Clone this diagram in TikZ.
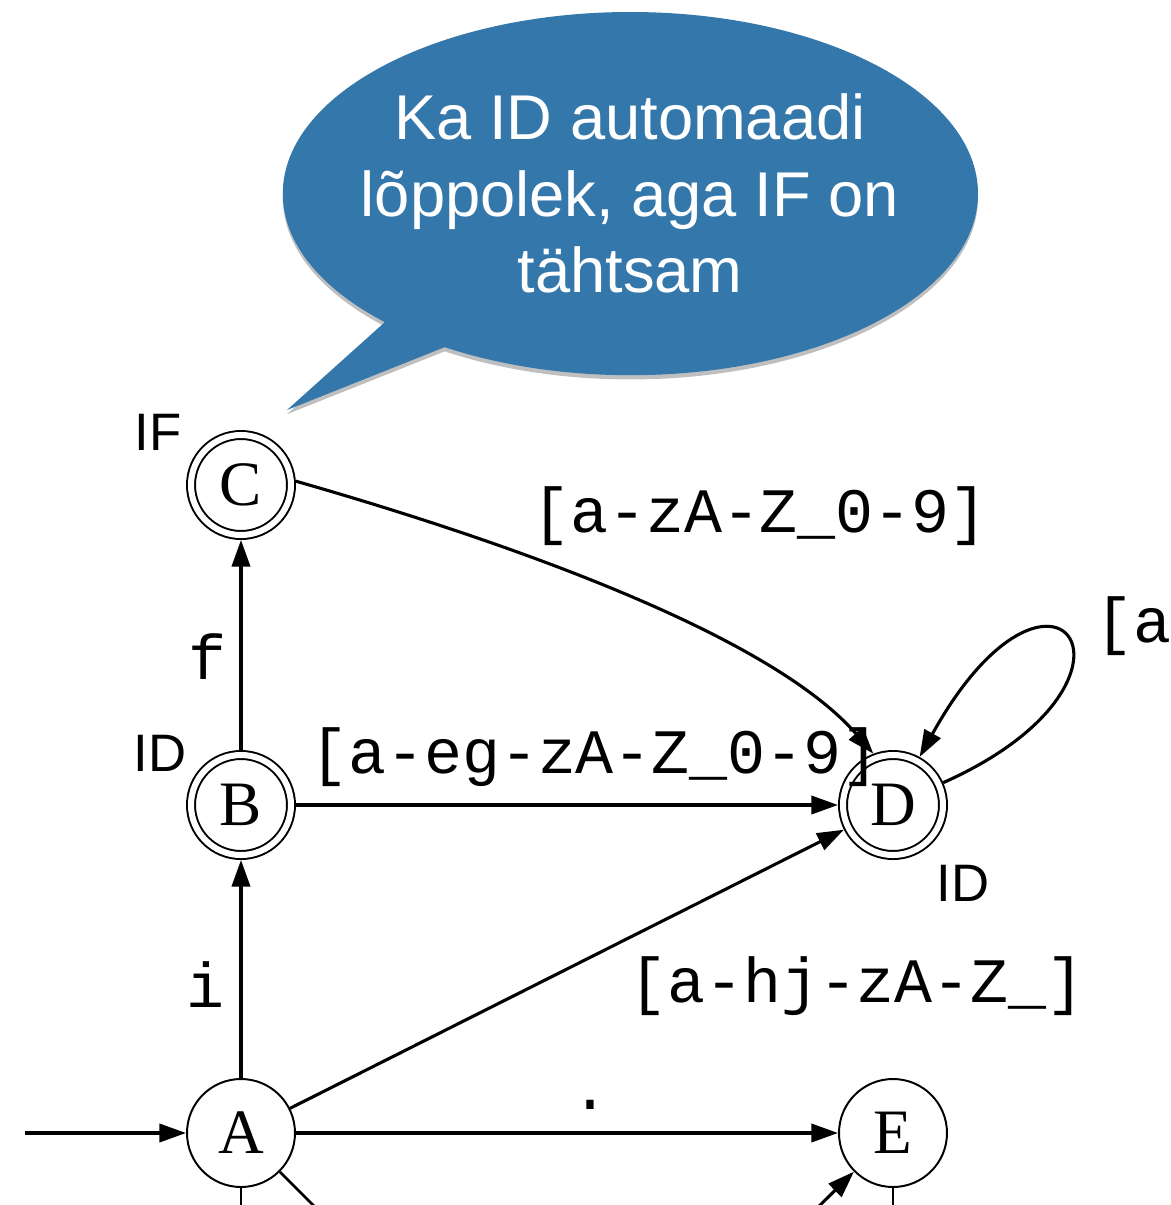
\documentclass[tikz,border=0pt]{standalone}
\usepackage{fontspec}
\setmainfont{Liberation Serif}
\newfontfamily\tagfont{Liberation Sans}
\newfontfamily\edgefont{Liberation Mono}
\usepackage{xcolor}
\usetikzlibrary{arrows.meta,shadows}
\definecolor{bubble}{RGB}{52,119,170}

\begin{document}
\begin{tikzpicture}[
  st/.style={draw,circle,line width=1.4pt,minimum size=2.7cm,inner sep=0pt,
    font=\fontsize{45}{50}\selectfont},
  acc/.style={st,minimum size=2.5cm,double,double distance=4.3pt,outer sep=3.55pt},
  >={Triangle[length=19pt,width=13pt]},
  tr/.style={->,line width=2.2pt},
  stub/.style={line width=1.8pt},
  lbl/.style={font=\edgefont\fontsize{45}{50}\selectfont,inner sep=0pt},
  tag/.style={font=\tagfont\fontsize{37.5}{40}\selectfont,inner sep=0pt},
  say/.style={font=\tagfont\fontsize{45}{54.4}\selectfont,text=white,align=center,inner sep=0pt}
]
\useasboundingbox (0,0) rectangle (29.275,-30.125);
\clip (0,0) rectangle (29.275,-30.125);
% speech bubble
\fill[bubble,drop shadow={shadow xshift=0pt,shadow yshift=-3pt,opacity=.25,fill=black}]
  (15.76,-4.84) ellipse [x radius=8.69cm,y radius=4.54cm]
  (9.625,-8.05) -- (7.175,-10.25) -- (11.125,-8.675) -- cycle;
\node[say] (note) at (15.75,-4.84) {Ka ID automaadi\\lõppolek, aga IF on\\tähtsam};
% states
\node[acc] (C) at (6.025,-12.125)  {C};
\node[acc] (B) at (6.025,-20.125)  {B};
\node[acc] (D) at (22.325,-20.125) {D};
\node[st]  (A) at (6.025,-28.325)  {A};
\node[st]  (E) at (22.325,-28.325) {E};
% token tags
\node[tag] (tC) at (3.95,-10.8)    {IF};
\node[tag] (tB) at (4.0,-18.825)   {ID};
\node[tag] (tD) at (24.075,-22.075) {ID};
% loose ends outside the frame
\coordinate (in) at (0.625,-28.325);
\coordinate (a1) at (6.025,-31);
\coordinate (a2) at (8.4,-30.7);
\coordinate (e0) at (20.0,-30.625);
\coordinate (e1) at (22.325,-31);
% transitions
\draw[tr] (in) -- (A);
\draw[tr] (A) -- (B);
\draw[tr] (B) -- (C);
\draw[tr] (B) -- (D);
\draw[tr] (C.4) to[out=-16,in=131,out distance=6.25cm,in distance=3.75cm] (D.111);
\draw[tr] (D) to[out=24,in=61,out distance=6.3cm,in distance=6.9cm] (D);
\draw[tr] (A) -- (D);
\draw[tr] (A) -- (E);
\draw[tr] (e0) -- (E);
\draw[stub] (A) -- (a1);
\draw[stub] (A) -- (a2);
\draw[stub] (E) -- (e1);
% edge labels
\node[lbl] (li) at (5.125,-24.625)  {i};
\node[lbl] (lf) at (5.175,-16.425)  {f};
\node[lbl] (lBD) at (14.875,-18.925) {[a-eg-zA-Z\_0-9]};
\node[lbl] (lCD) at (19.0,-12.9)     {[a-zA-Z\_0-9]};
\node[lbl] (lAD) at (21.425,-24.65)  {[a-hj-zA-Z\_]};
\node[lbl,anchor=west] (lDD) at (27.375,-15.65) {[a-zA-Z\_0-9]};
\node[lbl,anchor=base] (lAE) at (14.75,-27.725) {.};
\end{tikzpicture}
\end{document}
